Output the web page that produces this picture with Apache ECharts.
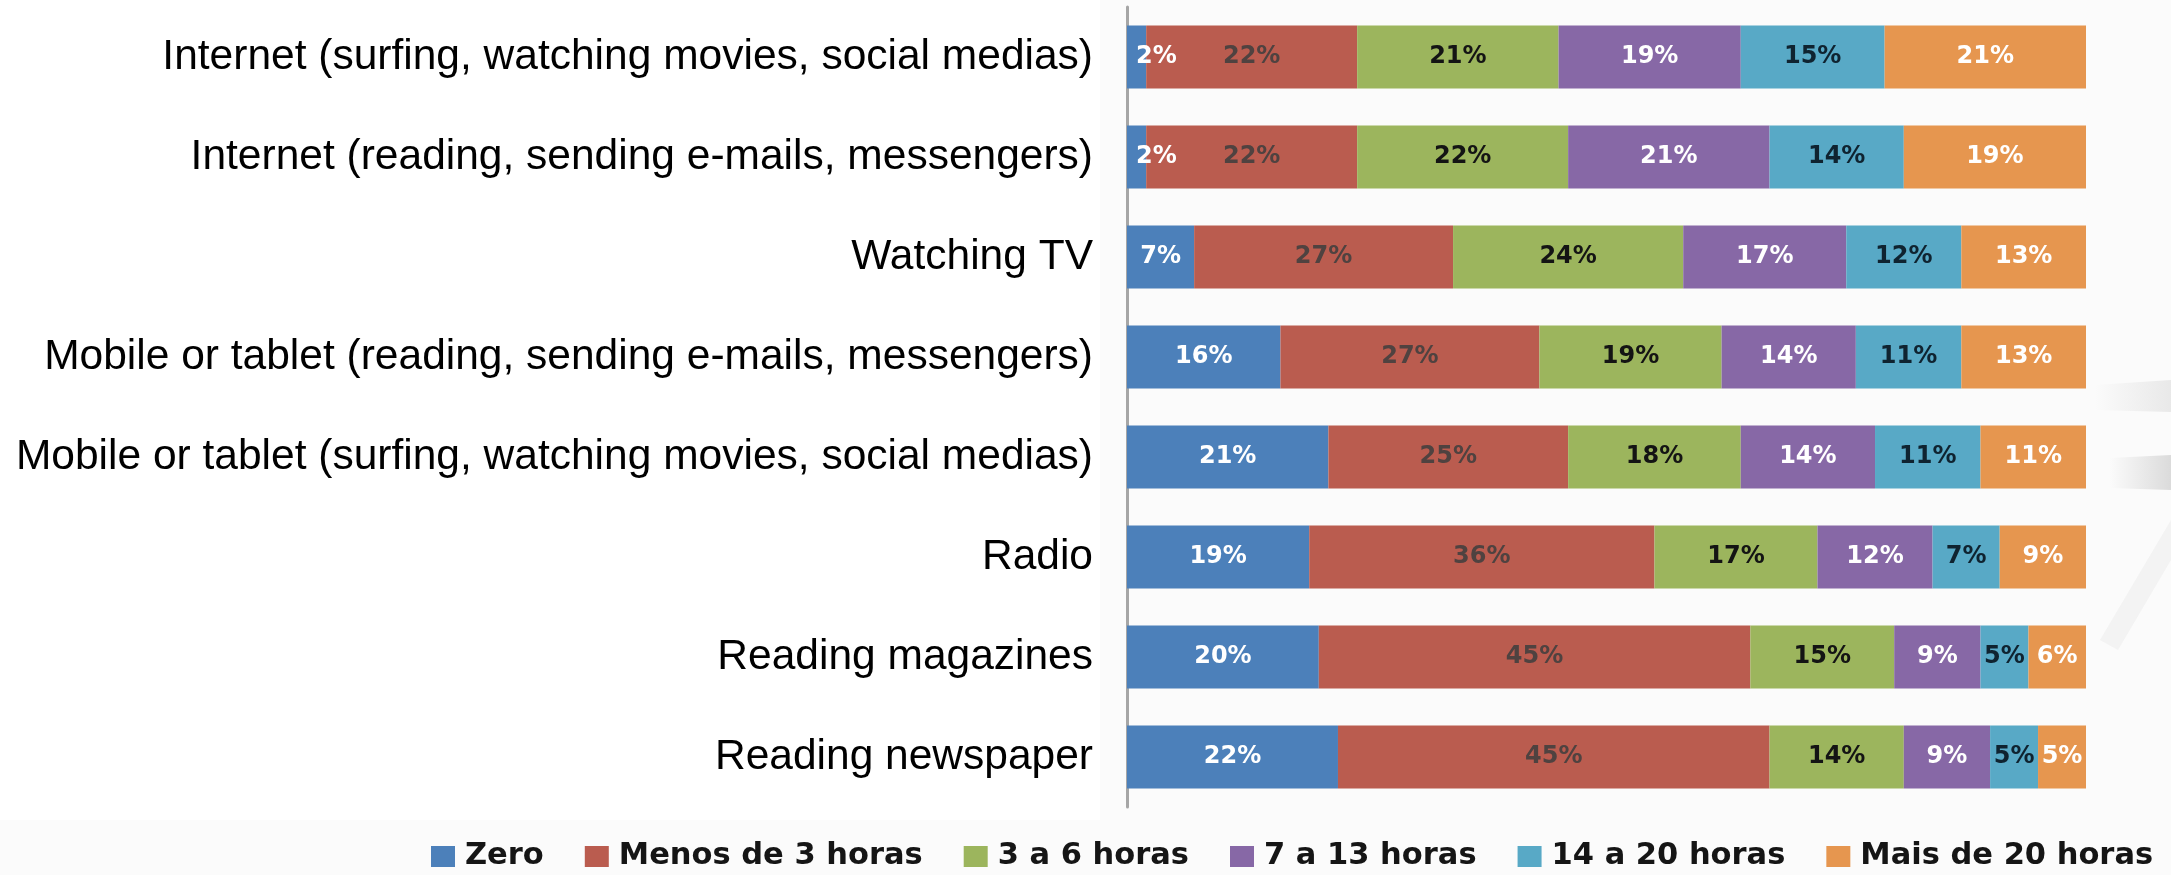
<!DOCTYPE html>
<html>
<head>
<meta charset="utf-8">
<script src="https://cdn.jsdelivr.net/npm/echarts@6/dist/echarts.min.js"></script>
<style>
  html, body { margin: 0; padding: 0; background: #ffffff; }
  #chart { width: 2171px; height: 875px; }
</style>
</head>
<body>
<div id="chart"></div>
<script>
// Weekly hours spent on each media activity (share of respondents, %)
const categories = [
  'Internet (surfing, watching movies, social medias)',
  'Internet (reading, sending e-mails, messengers)',
  'Watching TV',
  'Mobile or tablet (reading, sending e-mails, messengers)',
  'Mobile or tablet (surfing, watching movies, social medias)',
  'Radio',
  'Reading magazines',
  'Reading newspaper'
];
const seriesNames = ['Zero', 'Menos de 3 horas', '3 a 6 horas', '7 a 13 horas', '14 a 20 horas', 'Mais de 20 horas'];
const zero    = [2, 2, 7, 16, 21, 19, 20, 22];
const menos3  = [22, 22, 27, 27, 25, 36, 45, 45];
const de3a6   = [21, 22, 24, 19, 18, 17, 15, 14];
const de7a13  = [19, 21, 17, 14, 14, 12, 9, 9];
const de14a20 = [15, 14, 12, 11, 11, 7, 5, 5];
const mais20  = [21, 19, 13, 13, 11, 9, 6, 5];

const values = [zero, menos3, de3a6, de7a13, de14a20, mais20];
const colors = ['#4c80ba', '#ba5c4f', '#9cb55d', '#8768a6', '#58a9c6', '#e6964f'];
const labelColors = ['#ffffff', '#4f4240', '#141414', '#ffffff', '#0f2330', '#ffffff'];

const chart = echarts.init(document.getElementById('chart'), null, { renderer: 'canvas' });

// very thin segments get their label anchored at the segment start so it reads past the edge
function toItems(arr) {
  return arr.map(v => v < 5
    ? { value: v, label: { position: 'insideLeft', offset: [4, 0] } }
    : v);
}

const series = seriesNames.map((name, i) => ({
  name: name,
  type: 'bar',
  stack: 'total',
  barWidth: 63,
  data: toItems(values[i]),
  itemStyle: { color: colors[i] },
  label: {
    show: true,
    position: 'inside',
    formatter: '{c}%',
    fontFamily: 'DejaVu Sans',
    fontWeight: 'bold',
    fontSize: 24,
    color: labelColors[i]
  },
  emphasis: { disabled: true }
}));

chart.setOption({
  animation: false,
  backgroundColor: '#ffffff',
  graphic: [
    // slide background behind the chart, with the white label panel on the left
    { type: 'rect', z: -10, shape: { x: 0, y: 0, width: 2171, height: 875 }, style: { fill: '#fbfbfb' } },
    { type: 'rect', z: -9, shape: { x: 0, y: 0, width: 1100, height: 820 }, style: { fill: '#ffffff' } },
    { type: 'polygon', z: -8, shape: { points: [[2095, 385], [2171, 380], [2171, 412], [2095, 410]] },
      style: { fill: new echarts.graphic.LinearGradient(0, 0, 1, 0, [{ offset: 0, color: 'rgba(220,220,220,0)' }, { offset: 1, color: 'rgba(220,220,220,0.6)' }]) } },
    { type: 'polygon', z: -8, shape: { points: [[2110, 458], [2171, 455], [2171, 490], [2110, 488]] },
      style: { fill: new echarts.graphic.LinearGradient(0, 0, 1, 0, [{ offset: 0, color: 'rgba(205,205,205,0)' }, { offset: 1, color: 'rgba(205,205,205,0.7)' }]) } },
    { type: 'polygon', z: -8, shape: { points: [[2100, 640], [2171, 520], [2171, 560], [2118, 650]] },
      style: { fill: 'rgba(232,232,232,0.45)' } }
  ],
  grid: { left: 1127, right: 85, top: 7, bottom: 68, containLabel: false },
  legend: {
    data: seriesNames,
    left: 426,
    top: 836,
    width: 1745,
    itemWidth: 24,
    itemHeight: 21,
    itemGap: 41,
    icon: 'rect',
    selectedMode: false,
    textStyle: {
      fontFamily: 'DejaVu Sans',
      fontWeight: 'bold',
      fontSize: 30.5,
      color: '#151515',
      padding: [0, 0, 0, 5]
    }
  },
  xAxis: {
    type: 'value',
    min: 0,
    max: 100,
    show: false
  },
  yAxis: {
    type: 'category',
    inverse: true,
    data: categories,
    axisLine: { show: true, lineStyle: { color: '#a6a6a6', width: 3 } },
    axisTick: { show: false },
    splitLine: { show: false },
    axisLabel: {
      margin: 34,
      fontFamily: 'Liberation Sans, Arial, sans-serif',
      fontSize: 42.5,
      color: '#000000'
    }
  },
  series: series
});
</script>
</body>
</html>
